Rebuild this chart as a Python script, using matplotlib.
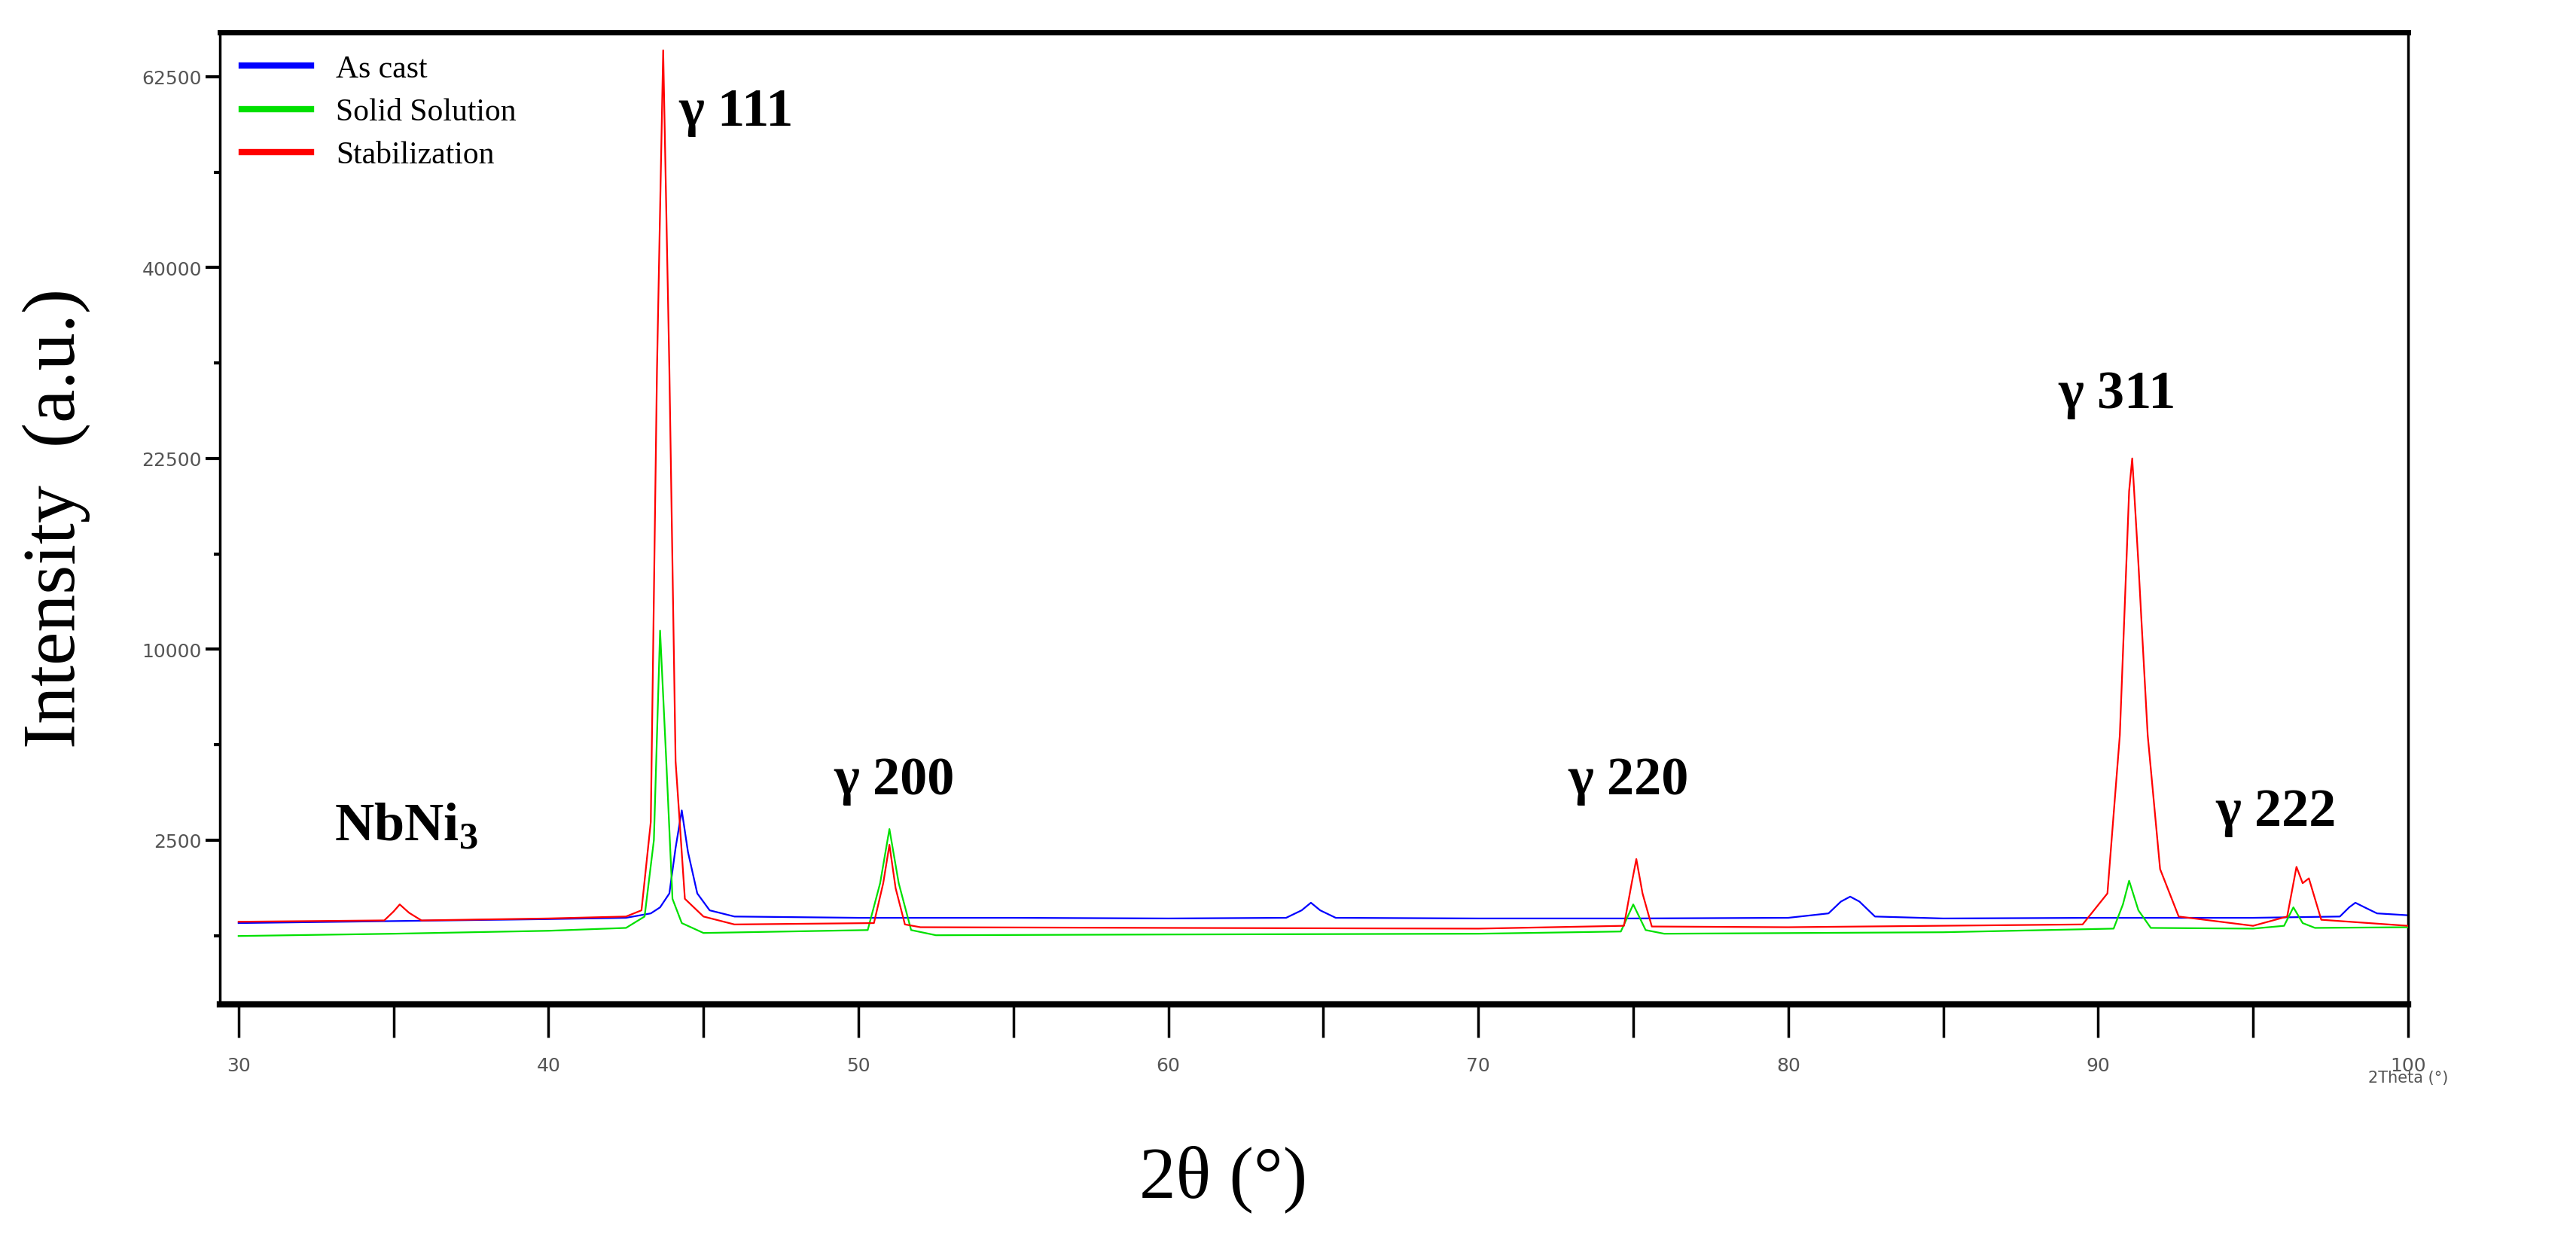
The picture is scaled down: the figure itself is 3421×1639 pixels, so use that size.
import numpy as np
import matplotlib
matplotlib.use("Agg")
import matplotlib.pyplot as plt

# ---- data ----
blue_x = [30.0, 35.0, 40.0, 42.5, 43.3, 43.6, 43.9, 44.1, 44.3, 44.5, 44.8, 45.2, 46, 50, 55, 60, 63.8, 64.3, 64.6, 64.9, 65.4, 70, 75, 80, 81.3, 81.7, 82.0, 82.3, 82.8, 85, 90, 95, 97.8, 98.1, 98.3, 98.6, 99.0, 100.0]
blue_y = [800, 830, 860, 880, 950, 1050, 1300, 2300, 3340, 2200, 1300, 1000, 900, 880, 880, 870, 880, 1000, 1130, 1000, 880, 870, 870, 880, 950, 1150, 1240, 1150, 900, 870, 880, 880, 900, 1050, 1130, 1050, 950, 920]

green_x = [30.0, 35.0, 40.0, 42.5, 43.1, 43.4, 43.6, 43.8, 44.0, 44.3, 45, 50.3, 50.7, 51.0, 51.3, 51.7, 52.5, 60, 70, 74.6, 75.0, 75.4, 76, 85, 90.5, 90.8, 91.0, 91.3, 91.7, 95, 96.0, 96.3, 96.6, 97.0, 100.0]
green_y = [620, 650, 690, 730, 900, 2500, 11000, 5000, 1200, 800, 660, 700, 1500, 2800, 1500, 700, 630, 640, 650, 680, 1100, 700, 650, 670, 720, 1100, 1550, 1000, 730, 720, 760, 1050, 800, 730, 740]

red_x = [30.0, 34.7, 35.0, 35.2, 35.5, 35.9, 40.0, 42.5, 43.0, 43.3, 43.5, 43.7, 43.9, 44.1, 44.4, 45, 46, 50.5, 50.8, 51.0, 51.2, 51.5, 52, 60, 70, 74.7, 74.95, 75.1, 75.3, 75.6, 80, 89.5, 90.3, 90.7, 91.0, 91.1, 91.3, 91.4, 91.6, 92.0, 92.6, 95, 96.1, 96.4, 96.6, 96.8, 97.2, 100.0]
red_y = [820, 840, 980, 1100, 960, 840, 870, 900, 1000, 3000, 30000, 66000, 30000, 5000, 1200, 900, 780, 800, 1500, 2380, 1400, 780, 740, 730, 720, 760, 1500, 2030, 1300, 750, 740, 780, 1300, 6000, 20000, 22500, 15000, 11500, 6000, 1800, 900, 760, 900, 1850, 1500, 1600, 850, 760]

annot_text = ["γ 111", "γ 200", "γ 220", "γ 311", "γ 222"]
annot_x = [44.2, 49.2, 72.9, 88.7, 93.8]
annot_y = [58000, 4300, 4300, 27800, 3300]

yticks = [2500, 10000, 22500, 40000, 62500]
yminor = [625, 5625, 15625, 30625, 50625]
xticks = [30, 40, 50, 60, 70, 80, 90, 100]
xminor = [35, 45, 55, 65, 75, 85, 95]

# ---- figure ----
plt.rcParams["mathtext.fontset"] = "custom"
plt.rcParams["mathtext.rm"] = "Liberation Serif"
plt.rcParams["mathtext.bf"] = "Liberation Serif:bold"
fig = plt.figure(figsize=(34.21, 16.40), dpi=100)
ax = fig.add_axes([0.0854, 0.186, 0.8494, 0.787])
ax.set_yscale("function", functions=(lambda v: np.sqrt(np.clip(v, 0, None)), lambda v: np.square(v)))

ax.plot(blue_x, blue_y, color="#0000ff", lw=1.6, label="As cast", zorder=2)
ax.plot(green_x, green_y, color="#00e000", lw=1.6, label="Solid Solution", zorder=3)
ax.plot(red_x, red_y, color="#ff0000", lw=1.6, label="Stabilization", zorder=4)

ax.set_xlim(29.4, 100.0)
ax.set_ylim(49, 68400)
ax.set_yticks(yticks)
ax.set_yticklabels([str(t) for t in yticks])
ax.set_yticks(yminor, minor=True)
ax.set_xticks(xticks)
ax.set_xticklabels([str(t) for t in xticks])
ax.set_xticks(xminor, minor=True)

ax.tick_params(axis="y", which="major", length=14, width=3, labelsize=18, labelcolor="#555555", direction="out")
ax.tick_params(axis="y", which="minor", length=6, width=3, direction="out")
ax.tick_params(axis="x", which="both", length=32, width=2.5, labelsize=18, labelcolor="#555555", direction="out", pad=18)
for s in ax.spines.values():
    s.set_linewidth(2.5)
ax.spines["bottom"].set_linewidth(6)
ax.spines["top"].set_linewidth(5)

leg = ax.legend(loc="upper left", frameon=False, prop={"family": "Liberation Serif", "size": 30},
                handlelength=2.2, borderaxespad=0.3, labelspacing=0.45, borderpad=0.4)
for line in leg.get_lines():
    line.set_linewidth(6)

for t, x, y in zip(annot_text, annot_x, annot_y):
    ax.text(x, y, t, fontsize=52, family="Liberation Serif", fontweight="bold", va="center", ha="left")
ax.text(33.1, 2900, r"NbNi$_\mathbf{3}$", fontsize=52, family="Liberation Serif", fontweight="bold", va="center", ha="left")

ax.text(1.0, -0.075, "2Theta (°)", transform=ax.transAxes, fontsize=15, color="#555555", ha="center", va="center")
fig.text(0.475, 0.045, "2θ (°)", fontsize=70, family="Liberation Serif", ha="center", va="center")
fig.text(0.022, 0.58, "Intensity  (a.u.)", fontsize=72, family="Liberation Serif", rotation=90, ha="center", va="center")

fig.savefig("out.png", dpi=100)
